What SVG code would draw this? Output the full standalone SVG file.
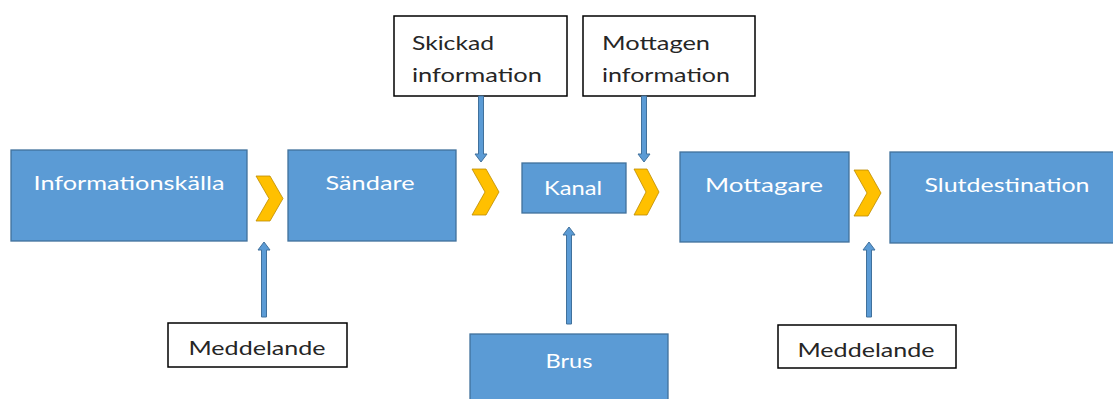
<svg xmlns="http://www.w3.org/2000/svg" width="1113" height="399" viewBox="0 0 1113 399">
<defs>
<style>
.blue{fill:#5B9BD5;stroke:#41719C;stroke-width:1.3}
.wbox{fill:#fff;stroke:#000;stroke-width:1.5}
.chev{fill:#FFC000;stroke:#BC8C00;stroke-width:0.8}
.arr{fill:#5B9BD5;stroke:#41719C;stroke-width:1}
.wt{font-family:Lato,"Open Sans",sans-serif;font-size:20px;fill:#fff}
.bt{font-family:Lato,"Open Sans",sans-serif;font-size:20px;fill:#262626}
</style>
</defs>
<rect width="1113" height="399" fill="#fff"/>
<g id="n-informationskalla"><rect class="blue" x="11" y="150" width="236" height="91"/><text class="wt" x="129" y="190" text-anchor="middle" textLength="191" lengthAdjust="spacingAndGlyphs">Informationskälla</text></g>
<g id="n-sandare"><rect class="blue" x="288" y="150" width="168" height="91"/><text class="wt" x="370" y="190" text-anchor="middle" textLength="89" lengthAdjust="spacingAndGlyphs">Sändare</text></g>
<g id="n-kanal"><rect class="blue" x="522" y="163" width="104" height="50"/><text class="wt" x="573" y="195" text-anchor="middle" textLength="58" lengthAdjust="spacingAndGlyphs">Kanal</text></g>
<g id="n-mottagare"><rect class="blue" x="680" y="152" width="169" height="90"/><text class="wt" x="764" y="192" text-anchor="middle" textLength="118" lengthAdjust="spacingAndGlyphs">Mottagare</text></g>
<g id="n-slutdestination"><rect class="blue" x="890" y="152" width="234" height="91"/><text class="wt" x="1007" y="192" text-anchor="middle" textLength="165" lengthAdjust="spacingAndGlyphs">Slutdestination</text></g>
<g id="n-brus"><rect class="blue" x="470" y="334" width="198" height="80"/><text class="wt" x="569" y="368" text-anchor="middle" textLength="47" lengthAdjust="spacingAndGlyphs">Brus</text></g>
<g id="n-skickad"><rect class="wbox" x="394" y="16" width="173" height="80"/><text class="bt" x="412" y="50" textLength="82" lengthAdjust="spacingAndGlyphs">Skickad</text><text class="bt" x="412" y="82" textLength="130" lengthAdjust="spacingAndGlyphs">information</text></g>
<g id="n-mottagen"><rect class="wbox" x="583" y="16" width="172" height="80"/><text class="bt" x="602" y="50" textLength="108" lengthAdjust="spacingAndGlyphs">Mottagen</text><text class="bt" x="602" y="82" textLength="128" lengthAdjust="spacingAndGlyphs">information</text></g>
<g id="n-meddelande1"><rect class="wbox" x="168" y="323" width="179" height="44"/><text class="bt" x="257" y="355" text-anchor="middle" textLength="137" lengthAdjust="spacingAndGlyphs">Meddelande</text></g>
<g id="n-meddelande2"><rect class="wbox" x="778" y="325" width="178" height="43"/><text class="bt" x="866" y="357" text-anchor="middle" textLength="137" lengthAdjust="spacingAndGlyphs">Meddelande</text></g>
<g id="connectors">
<polygon class="chev" points="256,176 270,176 283,198.5 270,221 256,221 269,198.5"/>
<polygon class="chev" points="472,169 486,169 499,192 486,215 472,215 485,192"/>
<polygon class="chev" points="634,169 647,169 659,192 647,215 634,215 646,192"/>
<polygon class="chev" points="854,170 868,170 881,193 868,216 854,216 867,193"/>
<path class="arr" d="M261.5,317 V250 H258 L264,242 L270,250 H266.5 V317 Z"/>
<path class="arr" d="M566.5,324 V235 H563 L569,227 L575,235 H571.5 V324 Z"/>
<path class="arr" d="M866.5,317 V250 H863 L869,242 L875,250 H871.5 V317 Z"/>
<path class="arr" d="M478.5,96 V154 H475 L481,162 L487,154 H483.5 V96 Z"/>
<path class="arr" d="M641.5,96 V154 H638 L644,162 L650,154 H646.5 V96 Z"/>
</g>
</svg>
